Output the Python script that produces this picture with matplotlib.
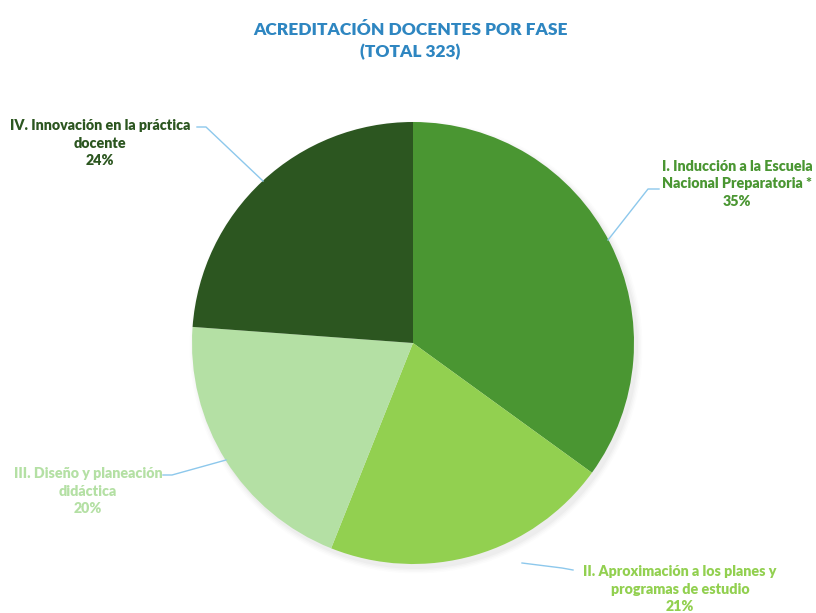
import matplotlib.pyplot as plt

# data
fases = ['I. Inducción a la Escuela\nNacional Preparatoria *',
         'II. Aproximación a los planes y\nprogramas de estudio',
         'III. Diseño y planeación\ndidáctica',
         'IV. Innovación en la práctica\ndocente']
docentes = [113, 68, 65, 77]
colores = ['#4A9632', '#92D050', '#B4E0A4', '#2C5620']
titulo = 'ACREDITACIÓN DOCENTES POR FASE\n(TOTAL 323)'

W, H = 816, 613
fig = plt.figure(figsize=(W / 100, H / 100), dpi=100)
ax = fig.add_axes([0, 0, 1, 1])

cx, cy, r = 413, 343, 221

# soft shadow
for k, a in enumerate([0.025, 0.02, 0.015, 0.01]):
    sh = plt.Circle((cx + 3, cy + 4), r + 1 + k * 1.5, color='#000000', alpha=a, lw=0)
    ax.add_patch(sh)

ax.pie(docentes, colors=colores, startangle=-90, counterclock=True,
       center=(cx, cy), radius=r, wedgeprops=dict(linewidth=0))
ax.set_xlim(0, W)
ax.set_ylim(H, 0)
ax.axis('off')

ax.text(W / 2 + 2, 41, titulo, ha='center', va='center', fontsize=12.5,
        fontweight='heavy', color='#2E86C1', family='Lato', linespacing=1.45)

total = sum(docentes)
pos = [(737, 184), (680, 589), (88, 491), (100, 143)]
lineas = [[(659, 189), (648, 189), (608, 240)],
          [(573, 570), (562, 568), (522, 563)],
          [(163, 475), (172, 475), (226, 460)],
          [(197, 127), (206, 127), (263, 181)]]

for f, n, c, (x, y), ln in zip(fases, docentes, colores, pos, lineas):
    pct = round(n / total * 100)
    ax.text(x, y, f + '\n' + str(pct) + '%', ha='center', va='center',
            fontsize=10.3, fontweight='heavy', color=c, family='Lato',
            linespacing=1.4)
    ax.plot([p[0] for p in ln], [p[1] for p in ln], color='#8DC8EC', lw=1)

plt.savefig('out.png', dpi=100)
